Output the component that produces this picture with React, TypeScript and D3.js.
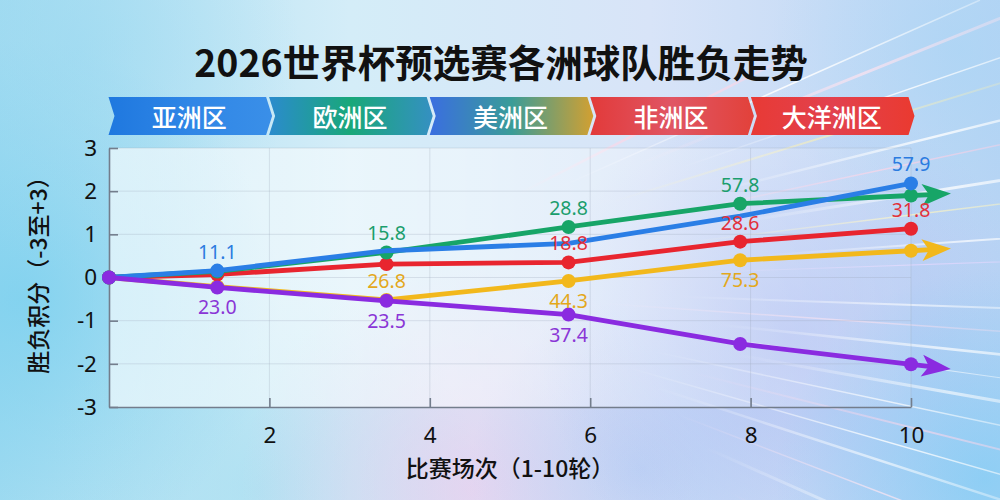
import React, { useEffect, useRef } from "react";
import * as d3 from "d3";

const W = 1000;
const H = 500;

// x position of each plotted round
const rounds = [0, 1.35, 3.46, 5.73, 7.87, 10];
const regionNames = ["亚洲区", "欧洲区", "美洲区", "非洲区", "大洋洲区"];

const blueScores = [0, 0.16, 0.62, 0.79, 1.42, 2.18];
const greenScores = [0, 0.14, 0.58, 1.17, 1.71, 1.9];
const redScores = [0, 0.07, 0.31, 0.35, 0.83, 1.13];
const yellowScores = [0, -0.21, -0.52, -0.08, 0.4, 0.62];
const purpleScores = [0, -0.23, -0.54, -0.86, -1.54, -2.01];

const blueLabels = ["", "11.1", "", "", "", "57.9"];
const greenLabels = ["", "", "15.8", "28.8", "57.8", ""];
const redLabels = ["", "", "", "18.8", "28.6", "31.8"];
const yellowLabels = ["", "", "26.8", "44.3", "75.3", ""];
const purpleLabels = ["", "23.0", "23.5", "37.4", "", ""];

// 1 = label above the point, -1 = below
const yellowLabelSide = [1, 1, 1, -1, -1, 1];
const blueDots = [true, true, false, false, false, true];

const xTicks = [2, 4, 6, 8, 10];
const yTicks = [-3, -2, -1, 0, 1, 2, 3];

const series = [
  { key: "yellow", color: "#f2b81c", text: "#e3a81c", values: yellowScores, labels: yellowLabels, side: yellowLabelSide, arrow: true, dots: null },
  { key: "red", color: "#e8252f", text: "#e2303b", values: redScores, labels: redLabels, side: null, arrow: false, dots: null },
  { key: "green", color: "#17a567", text: "#1b9e6d", values: greenScores, labels: greenLabels, side: null, arrow: true, dots: null },
  { key: "blue", color: "#2a7ee6", text: "#2b7be0", values: blueScores, labels: blueLabels, side: null, arrow: false, dots: blueDots },
  { key: "purple", color: "#8a2be0", text: "#8a36d6", values: purpleScores, labels: purpleLabels, side: [-1, -1, -1, -1, -1, -1], arrow: true, dots: null },
];

const bannerColors = [
  ["#1f78df", "#2f86e6", "#3a8fe8"],
  ["#2b8bcd", "#19a879", "#3590c2"],
  ["#3a6ee0", "#3a9c98", "#d2a031"],
  ["#e23a3a", "#e05664", "#e2413a"],
  ["#e83a35", "#e2414e", "#ea3a30"],
];

// background light streaks: angle, start, end, width, colour, opacity
const streaks: [number, number, number, number, string, number][] = [
  [-27, 200, 500, 2.5, "#ffd6e6", 0.9],
  [-24, 240, 700, 1.5, "#ffffff", 0.9],
  [-22, 320, 760, 3, "#ffe3ef", 0.7],
  [-19, 360, 800, 1.5, "#ffffff", 0.8],
  [-17, 280, 700, 2, "#fff3b0", 0.6],
  [-14, 380, 800, 2.5, "#ffffff", 0.8],
  [-12, 320, 760, 1.5, "#ffd0e4", 0.7],
  [-9, 400, 800, 3, "#ffffff", 0.75],
  [-7, 350, 760, 1.5, "#fff6c0", 0.7],
  [-4, 420, 800, 2, "#ffffff", 0.7],
  [-2, 360, 760, 1.2, "#e8d8ff", 0.7],
  [2, 340, 760, 2, "#ffffff", 0.6],
  [4, 260, 700, 1.5, "#ffe0ee", 0.6],
  [6, 380, 800, 2.5, "#ffffff", 0.7],
  [8, 280, 720, 1.2, "#ffffff", 0.8],
  [10, 400, 800, 3, "#ffffff", 0.6],
  [12, 320, 760, 1.5, "#ffffff", 0.7],
  [14, 360, 800, 2, "#ffd6ea", 0.6],
  [16, 300, 800, 1.5, "#ffffff", 0.8],
  [18, 330, 760, 2.5, "#ffffff", 0.6],
  [21, 360, 760, 1.5, "#ffe6f2", 0.7],
  [24, 400, 760, 3, "#ffffff", 0.6],
  [28, 440, 760, 2, "#ffd9ec", 0.6],
  [32, 470, 760, 1.5, "#ffffff", 0.6],
];

export default function App() {
  const ref = useRef<SVGSVGElement>(null);

  useEffect(() => {
    const svg = d3.select(ref.current);
    svg.selectAll("*").remove();
    const defs = svg.append("defs");

    const margin = { left: 109, right: 89, top: 148, bottom: 93 };
    const x = d3.scaleLinear().domain([0, 10]).range([margin.left, W - margin.right]);
    const y = d3.scaleLinear().domain([-3, 3]).range([H - margin.bottom, margin.top]);

    // --- BACKGROUND ---
    const base = defs.append("linearGradient").attr("id", "bg").attr("x1", 0).attr("x2", 1).attr("y1", 0).attr("y2", 0);
    [["0", "#a4dcf1"], ["0.35", "#d4edf8"], ["0.65", "#d8e4f8"], ["1", "#b8d4f4"]].forEach(([o, c]) =>
      base.append("stop").attr("offset", o).attr("stop-color", c)
    );
    svg.append("rect").attr("width", W).attr("height", H).attr("fill", "url(#bg)");

    const blobs: [number, number, number, string, number][] = [
      [20, 300, 260, "#78cfee", 0.75],
      [80, 50, 220, "#96d7f0", 0.5],
      [260, 490, 220, "#9fdcef", 0.55],
      [470, 490, 230, "#f0c4ea", 0.55],
      [640, 470, 170, "#a2c6f3", 0.5],
      [790, 340, 250, "#acb9f2", 0.65],
      [985, 480, 210, "#80ccf4", 0.75],
      [960, 50, 190, "#a6d5f5", 0.55],
    ];
    blobs.forEach(([cx, cy, r, c, op], i) => {
      const g = defs.append("radialGradient").attr("id", `blob${i}`);
      g.append("stop").attr("offset", "0").attr("stop-color", c).attr("stop-opacity", op);
      g.append("stop").attr("offset", "1").attr("stop-color", c).attr("stop-opacity", 0);
      svg.append("circle").attr("cx", cx).attr("cy", cy).attr("r", r).attr("fill", `url(#blob${i})`);
    });

    const vp = [340, 285];
    streaks.forEach(([ang, d0, d1, w, c, op], i) => {
      const a = (ang * Math.PI) / 180;
      const x0 = vp[0] + Math.cos(a) * d0;
      const y0 = vp[1] + Math.sin(a) * d0;
      const x1 = vp[0] + Math.cos(a) * d1;
      const y1 = vp[1] + Math.sin(a) * d1;
      const g = defs.append("linearGradient").attr("id", `st${i}`).attr("gradientUnits", "userSpaceOnUse")
        .attr("x1", x0).attr("y1", y0).attr("x2", x1).attr("y2", y1);
      g.append("stop").attr("offset", "0").attr("stop-color", c).attr("stop-opacity", 0);
      g.append("stop").attr("offset", "0.55").attr("stop-color", c).attr("stop-opacity", op);
      g.append("stop").attr("offset", "1").attr("stop-color", c).attr("stop-opacity", op * 0.4);
      svg.append("line").attr("x1", x0).attr("y1", y0).attr("x2", x1).attr("y2", y1)
        .attr("stroke", `url(#st${i})`).attr("stroke-width", w).attr("stroke-linecap", "round");
    });

    // --- PLOT AREA WASH ---
    const wash = defs.append("linearGradient").attr("id", "wash").attr("x1", 0).attr("x2", 1).attr("y1", 0).attr("y2", 0);
    [["0", 0.62], ["0.45", 0.45], ["1", 0.08]].forEach(([o, v]) =>
      wash.append("stop").attr("offset", o).attr("stop-color", "#ffffff").attr("stop-opacity", v)
    );
    svg.append("rect")
      .attr("x", x(0)).attr("y", y(3))
      .attr("width", x(10) - x(0)).attr("height", y(-3) - y(3))
      .attr("fill", "url(#wash)");

    // --- TITLE ---
    svg.append("text")
      .attr("x", 501).attr("y", 60)
      .attr("text-anchor", "middle").attr("dominant-baseline", "central")
      .style("font-family", "'Noto Sans CJK SC', 'Noto Sans', sans-serif")
      .style("font-size", "37.5px").style("font-weight", 700).style("fill", "#111")
      .text("2026世界杯预选赛各洲球队胜负走势");

    // --- REGION BANNER ---
    const band = d3.scaleBand().domain(regionNames).range([107, 910]).paddingInner(0);
    const bTop = 97;
    const bBot = 135;
    const bMid = (bTop + bBot) / 2;
    regionNames.forEach((name, i) => {
      const g = defs.append("linearGradient").attr("id", `ban${i}`).attr("x1", 0).attr("x2", 1).attr("y1", 0).attr("y2", 0);
      bannerColors[i].forEach((c, j) => g.append("stop").attr("offset", j / 2).attr("stop-color", c));
      const x0 = band(name)! + 1.5;
      const x1 = band(name)! + band.bandwidth() - 1.5;
      const pts = [
        [x0, bTop], [x1, bTop], [x1 + 6, bMid], [x1, bBot], [x0, bBot], [x0 + 6, bMid],
      ];
      svg.append("polygon").attr("points", pts.map((p) => p.join(",")).join(" ")).attr("fill", `url(#ban${i})`);
      svg.append("text")
        .attr("x", band(name)! + band.bandwidth() / 2 + 2).attr("y", bMid)
        .attr("text-anchor", "middle").attr("dominant-baseline", "central")
        .style("font-family", "'Noto Sans CJK SC', sans-serif")
        .style("font-size", "25px").style("font-weight", 500).style("fill", "#fff")
        .text(name);
    });

    // --- GRID ---
    const grid = svg.append("g").attr("stroke", "#9aa6b6").attr("stroke-opacity", 0.28).attr("stroke-width", 1);
    grid.selectAll("line.h").data(yTicks.filter((t) => t > -3)).join("line")
      .attr("x1", x(0)).attr("x2", x(10)).attr("y1", (d) => y(d)).attr("y2", (d) => y(d));
    grid.selectAll("line.v").data(xTicks).join("line")
      .attr("x1", (d) => x(d)).attr("x2", (d) => x(d)).attr("y1", y(3)).attr("y2", y(-3));

    // --- AXES ---
    const tickFont = "'Noto Sans', 'DejaVu Sans', sans-serif";
    const yAxis = svg.append("g").attr("transform", `translate(${x(0)},0)`)
      .call(d3.axisLeft(y).tickValues(yTicks).tickSize(-9).tickSizeOuter(0).tickPadding(12).tickFormat((d) => String(d)));
    const xAxis = svg.append("g").attr("transform", `translate(0,${y(-3)})`)
      .call(d3.axisBottom(x).tickValues(xTicks).tickSize(-9).tickSizeOuter(0).tickPadding(20).tickFormat((d) => String(d)));
    [yAxis, xAxis].forEach((ax) => {
      ax.select(".domain").attr("stroke", "#737d8c").attr("stroke-width", 1.6);
      ax.selectAll(".tick line").attr("stroke", "#737d8c").attr("stroke-width", 1.6);
      ax.selectAll(".tick text").style("font-family", tickFont).style("font-size", "22.5px").style("fill", "#111");
    });

    svg.append("text")
      .attr("x", (x(0) + x(10)) / 2).attr("y", 467)
      .attr("text-anchor", "middle").attr("dominant-baseline", "central")
      .style("font-family", "'Noto Sans CJK SC', sans-serif")
      .style("font-size", "23px").style("font-weight", 500).style("fill", "#111")
      .text("比赛场次（1-10轮）");

    svg.append("text")
      .attr("transform", `translate(37,${(y(3) + y(-3)) / 2 - 8}) rotate(-90)`)
      .attr("text-anchor", "middle").attr("dominant-baseline", "central")
      .style("font-family", "'Noto Sans CJK SC', sans-serif")
      .style("font-size", "23px").style("font-weight", 500).style("fill", "#111")
      .text("胜负积分（-3至+3）");

    // --- SERIES ---
    const line = d3.line<number>().x((_, i) => x(rounds[i])).y((d) => y(d));
    const labelFont = "'Noto Sans', 'Open Sans', sans-serif";

    series.forEach((s) => {
      const g = svg.append("g");
      g.append("path")
        .attr("d", line(s.values))
        .attr("fill", "none").attr("stroke", s.color).attr("stroke-width", 4.8)
        .attr("stroke-linejoin", "round").attr("stroke-linecap", "round");

      if (s.arrow) {
        const n = s.values.length;
        const px = x(rounds[n - 1]);
        const py = y(s.values[n - 1]);
        const qx = x(rounds[n - 2]);
        const qy = y(s.values[n - 2]);
        const len = Math.hypot(px - qx, py - qy);
        const ux = (px - qx) / len;
        const uy = (py - qy) / len;
        const at = (d: number, off = 0) => [px + ux * d - uy * off, py + uy * d + ux * off];
        g.append("line")
          .attr("x1", px).attr("y1", py)
          .attr("x2", at(20)[0]).attr("y2", at(20)[1])
          .attr("stroke", s.color).attr("stroke-width", 4.8);
        const head = [at(40), at(11, 11), at(18), at(11, -11)];
        g.append("polygon").attr("points", head.map((p) => p.join(",")).join(" ")).attr("fill", s.color);
      }

      g.selectAll("circle")
        .data(s.values.map((v, i) => ({ v, i })).filter((d) => !s.dots || s.dots[d.i]))
        .join("circle")
        .attr("cx", (d) => x(rounds[d.i])).attr("cy", (d) => y(d.v))
        .attr("r", 7).attr("fill", s.color);
    });

    // labels on top of all lines
    series.forEach((s) => {
      svg.append("g")
        .selectAll("text")
        .data(s.values.map((v, i) => ({ v, i, t: s.labels[i] })).filter((d) => d.t))
        .join("text")
        .attr("x", (d) => x(rounds[d.i]))
        .attr("y", (d) => y(d.v) - (s.side ? s.side[d.i] : 1) * 19.5)
        .attr("text-anchor", "middle").attr("dominant-baseline", "central")
        .style("font-family", labelFont).style("font-size", "19.5px")
        .style("fill", s.text)
        .text((d) => d.t);
    });
  }, []);

  return (
    <svg
      ref={ref}
      width={W}
      height={H}
      style={{ position: "fixed", left: 0, top: 0, display: "block" }}
    ></svg>
  );
}
